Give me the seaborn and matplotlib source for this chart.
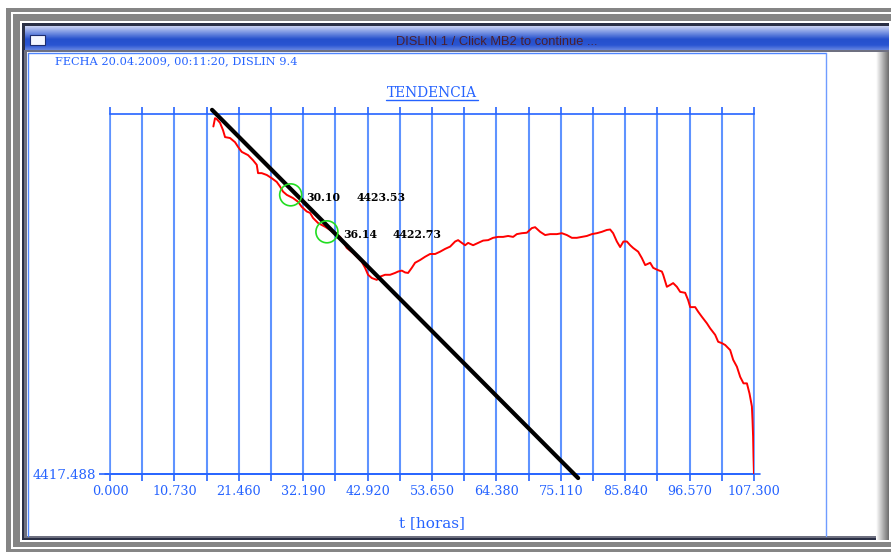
import numpy as np
import pandas as pd
import matplotlib
matplotlib.use("Agg")
import matplotlib.pyplot as plt
import seaborn as sns
from matplotlib.patches import Rectangle
from matplotlib.lines import Line2D
from matplotlib.colors import LinearSegmentedColormap

# ---------------- data ----------------
t_horas = [17.22, 17.50, 17.78, 18.33, 18.83, 19.17, 20.00, 20.83, 21.33, 21.95,
           23.00, 23.83, 24.45, 24.67, 25.28, 26.12, 26.95, 27.78, 28.33, 28.83,
           29.45, 30.50, 31.33, 31.95, 32.78, 33.33, 33.83, 34.67, 35.83, 36.67,
           37.50, 38.33, 38.83, 39.45, 40.50, 41.33, 41.95, 42.50, 43.00, 43.62,
           44.45, 45.00, 45.83, 46.67, 47.50, 48.00, 48.62, 49.17, 49.67, 50.28,
           50.83, 51.67, 52.50, 53.33, 54.17, 55.00, 55.83, 56.67, 57.50, 58.00,
           58.62, 59.17, 59.67, 60.50, 61.33, 62.17, 63.00, 63.83, 64.67, 65.50,
           66.33, 67.17, 67.78, 68.62, 69.45, 70.28, 70.83, 71.67, 72.50, 73.33,
           74.45, 75.28, 76.12, 76.95, 77.78, 78.62, 79.45, 80.28, 81.12, 81.95,
           82.78, 83.33, 83.83, 84.45, 85.00, 85.55, 86.12, 86.67, 87.17, 88.00,
           88.62, 89.17, 90.00, 90.50, 91.33, 91.95, 92.17, 92.78, 93.33, 93.83,
           94.45, 95.00, 95.83, 96.33, 96.67, 97.50, 98.00, 98.62, 99.45, 100.00,
           100.83, 101.33, 101.95, 102.50, 103.33, 103.83, 104.45, 105.00, 105.55, 106.12,
           106.55, 106.95, 107.05, 107.15, 107.22, 107.30]
valores = [4425.01, 4425.19, 4425.17, 4425.09, 4424.93, 4424.78, 4424.76, 4424.67, 4424.57, 4424.46,
           4424.39, 4424.28, 4424.18, 4424.00, 4424.00, 4423.96, 4423.89, 4423.81, 4423.71, 4423.60,
           4423.53, 4423.46, 4423.38, 4423.27, 4423.17, 4423.14, 4423.03, 4422.92, 4422.84, 4422.77,
           4422.70, 4422.62, 4422.52, 4422.38, 4422.27, 4422.16, 4422.08, 4421.95, 4421.80, 4421.73,
           4421.69, 4421.76, 4421.80, 4421.80, 4421.84, 4421.87, 4421.89, 4421.85, 4421.84, 4421.95,
           4422.06, 4422.12, 4422.19, 4422.25, 4422.25, 4422.30, 4422.36, 4422.41, 4422.52, 4422.55,
           4422.49, 4422.44, 4422.49, 4422.44, 4422.49, 4422.54, 4422.55, 4422.60, 4422.62, 4422.62,
           4422.64, 4422.62, 4422.68, 4422.70, 4422.71, 4422.81, 4422.83, 4422.73, 4422.66, 4422.68,
           4422.68, 4422.70, 4422.66, 4422.60, 4422.60, 4422.62, 4422.64, 4422.68, 4422.70, 4422.73,
           4422.77, 4422.78, 4422.70, 4422.52, 4422.40, 4422.52, 4422.52, 4422.44, 4422.38, 4422.30,
           4422.16, 4422.01, 4422.06, 4421.95, 4421.90, 4421.87, 4421.80, 4421.54, 4421.58, 4421.62,
           4421.54, 4421.43, 4421.41, 4421.25, 4421.10, 4421.10, 4421.00, 4420.89, 4420.75, 4420.64,
           4420.50, 4420.35, 4420.32, 4420.28, 4420.17, 4419.96, 4419.81, 4419.59, 4419.45, 4419.45,
           4419.23, 4418.95, 4418.66, 4418.30, 4417.86, 4417.49]

tend_t = [17.0, 78.0]
tend_v = [4425.37, 4417.40]

marca_t = [30.10, 36.14]
marca_v = [4423.53, 4422.73]
marca_txt_t = ["30.10", "36.14"]
marca_txt_v = ["4423.53", "4422.73"]

xticks_major = [0.0, 10.73, 21.46, 32.19, 42.92, 53.65, 64.38, 75.11, 85.84, 96.57, 107.3]
xtick_labels = ["0.000", "10.730", "21.460", "32.190", "42.920", "53.650",
                "64.380", "75.110", "85.840", "96.570", "107.300"]
xticks_minor = [5.365, 16.095, 26.825, 37.555, 48.285, 59.015, 69.745, 80.475, 91.205, 101.935]
y_min = 4417.488
y_max = 4425.28
ytick_labels = ["4417.488"]

titulo_ventana = "DISLIN 1 / Click MB2 to continue ..."
fecha = "FECHA 20.04.2009, 00:11:20, DISLIN 9.4"
titulo = "TENDENCIA"
xlabel = "t [horas]"

# ---------------- figure ----------------
sns.set_style("white")
plt.rcParams["font.family"] = ["DejaVu Serif"]

W, H = 891, 552
fig = plt.figure(figsize=(W / 100, H / 100), dpi=100)
fig.patch.set_facecolor("white")

BLUE = "#2563ff"
GRID = "#5f93ff"


def fx(x):
    return x / W


def fy(y):
    return 1 - y / H


def rect(x0, y0, x1, y1, z=-10, **kw):
    fig.add_artist(Rectangle((fx(x0), fy(y1)), (x1 - x0) / W, (y1 - y0) / H,
                             transform=fig.transFigure, zorder=z, **kw))


# window chrome
rect(6, 8, 891, 552, fc="#858585", ec="none", z=-20)
rect(11, 12, 891, 549, fc="white", ec="none", z=-19)
rect(13, 14, 891, 547, fc="#858585", ec="none", z=-18)
rect(20, 21, 891, 542, fc="white", ec="none", z=-17)
rect(22, 23, 889, 540, fc="#2a2f45", ec="none", z=-16)
rect(24, 50, 889, 538, fc="#6e7080", ec="none", z=-16)
rect(27, 52, 877, 536, fc="white", ec="none", z=-15)

# title bar gradient
cm_bar = LinearSegmentedColormap.from_list(
    "bar", [(0, "#c9d2f2"), (0.25, "#7d97e4"), (0.55, "#2550cc"), (0.8, "#2a55d2"), (1, "#6483e0")])
axbar = fig.add_axes([fx(25), fy(50), (889 - 25) / W, 24 / H], zorder=-14)
axbar.imshow(np.linspace(0, 1, 50).reshape(-1, 1), aspect="auto", cmap=cm_bar,
             extent=[0, 1, 0, 1], origin="upper")
axbar.set_axis_off()
rect(30, 35, 45, 45, fc="#f4f6ff", ec="#1c2c70", lw=0.8, z=-13)
fig.text(fx(497), fy(42), titulo_ventana, ha="center", va="center", fontsize=9.3,
         color="#4a2030", family=["Liberation Sans", "DejaVu Sans"])

# right shaded edge
cm_edge = LinearSegmentedColormap.from_list("edge", ["white", "#6e6e6e"])
axedge = fig.add_axes([fx(876), fy(540), 13 / W, (540 - 52) / H], zorder=-14)
axedge.imshow(np.linspace(0, 1, 30).reshape(1, -1), aspect="auto", cmap=cm_edge,
              extent=[0, 1, 0, 1])
axedge.set_axis_off()

# DISLIN page border
fig.add_artist(Line2D([fx(28), fx(826)], [fy(53), fy(53)], color="#4f86ff", lw=1.0,
                      transform=fig.transFigure, zorder=-12))
fig.add_artist(Line2D([fx(28), fx(28)], [fy(53), fy(536)], color="#4f86ff", lw=1.0,
                      transform=fig.transFigure, zorder=-12))
fig.add_artist(Line2D([fx(826), fx(826)], [fy(53), fy(536)], color="#6f9cff", lw=1.0,
                      transform=fig.transFigure, zorder=-12))

# header texts
fig.text(fx(55), fy(61), fecha, ha="left", va="center", fontsize=8.2, color=BLUE)
fig.text(fx(432), fy(93), titulo, ha="center", va="center", fontsize=9.9, color=BLUE)
fig.add_artist(Line2D([fx(386), fx(478)], [fy(100), fy(100)], color=BLUE, lw=1.0,
                      transform=fig.transFigure))
fig.text(fx(432), fy(523), xlabel, ha="center", va="center", fontsize=11, color=BLUE)

# ---------------- plot area ----------------
ax = fig.add_axes([fx(110), fy(474), 644 / W, 360 / H])
ax.set_facecolor("white")

df = pd.DataFrame({"t": t_horas, "v": valores})
sns.lineplot(data=df, x="t", y="v", color="#ff0000", lw=1.4, sort=False,
             estimator=None, ax=ax, zorder=3)

dft = pd.DataFrame({"t": tend_t, "v": tend_v})
sns.lineplot(data=dft, x="t", y="v", color="black", lw=3.0, sort=False,
             estimator=None, ax=ax, zorder=4)
ax.lines[-1].set_clip_on(False)

ax.scatter(marca_t, marca_v, s=250, facecolors="none", edgecolors="#22dd22",
           linewidths=1.2, zorder=5)
for xt, yv, s1, s2 in zip(marca_t, marca_v, marca_txt_t, marca_txt_v):
    ax.annotate(s1, (xt, yv), xytext=(16, -3), textcoords="offset pixels",
                ha="left", va="center", fontsize=7.8, fontweight="bold", color="black")
    ax.annotate(s2, (xt, yv), xytext=(66, -3), textcoords="offset pixels",
                ha="left", va="center", fontsize=7.8, fontweight="bold", color="black")

ax.set_xlim(0, 107.3)
ax.set_ylim(y_min, y_max)
ax.set_xticks(xticks_major)
ax.set_xticklabels(xtick_labels)
ax.set_xticks(xticks_minor, minor=True)
ax.set_yticks([y_min])
ax.set_yticklabels(ytick_labels)
ax.grid(True, which="both", axis="x", color=GRID, lw=1.5)
ax.grid(False, axis="y")
ax.set_xlabel("")
ax.set_ylabel("")

ax.tick_params(axis="x", which="both", direction="out", top=True, bottom=True,
               length=5, width=1.2, color=BLUE, labelcolor=BLUE, labelsize=9.2, pad=3)
ax.tick_params(axis="y", which="both", direction="out", left=True, length=8,
               width=1.2, color=BLUE, labelcolor=BLUE, labelsize=9.6, pad=2)
for s in ax.spines.values():
    s.set_color(BLUE)
    s.set_linewidth(1.2)
ax.spines["left"].set_color(GRID)
ax.spines["right"].set_color(GRID)
ax.axhline(y_min, xmin=-0.008, xmax=1.01, color=BLUE, lw=1.2, clip_on=False, zorder=2)

fig.savefig("out.png", dpi=100)
